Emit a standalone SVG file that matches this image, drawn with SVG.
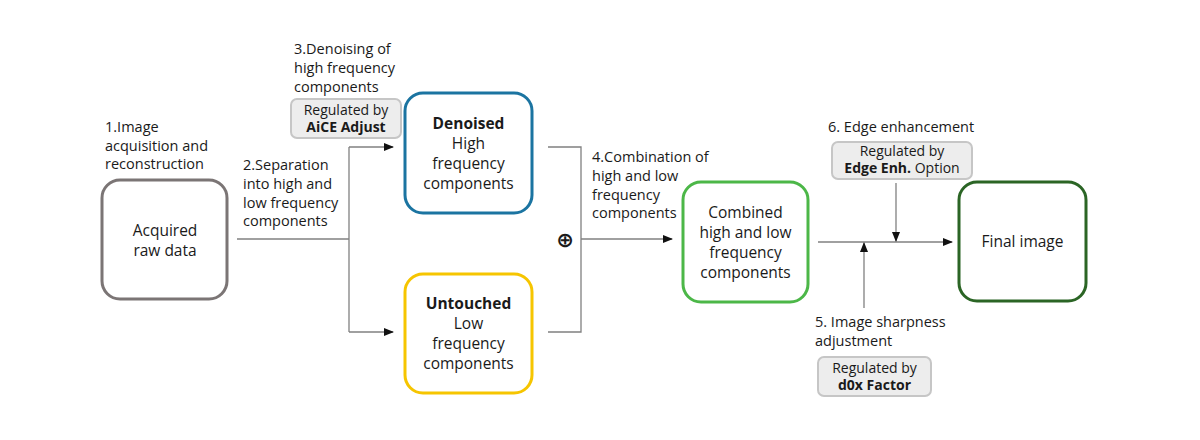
<svg xmlns="http://www.w3.org/2000/svg" width="1200" height="440" viewBox="0 0 1200 440">
<defs>
<style>
text{font-family:"Open Sans","Noto Sans","DejaVu Sans",sans-serif;fill:#1a1a1a}
.lbl{font-size:14.5px}
.nt{font-size:15.5px;text-anchor:middle}
.b{font-weight:bold}
.reg{font-size:14px;text-anchor:middle}
.node{fill:#fff;stroke-width:3}
.tag{fill:#ededed;stroke:#c6c6c6;stroke-width:2}
.ln{fill:none;stroke:#808080;stroke-width:1.3}
</style>
<marker id="ah" markerWidth="10" markerHeight="8" refX="9" refY="4" orient="auto" markerUnits="userSpaceOnUse">
<path d="M0,0 L10,4 L0,8 Z" fill="#111"/>
</marker>
</defs>
<rect width="1200" height="440" fill="#fff"/>

<g id="connectors">
<path class="ln" d="M237,239 H349"/>
<path class="ln" d="M349,147 V332"/>
<path class="ln" d="M349,147 H393" marker-end="url(#ah)"/>
<path class="ln" d="M349,332 H393" marker-end="url(#ah)"/>
<path class="ln" d="M548,147 H581 V332 H548"/>
<path class="ln" d="M581,239 H672" marker-end="url(#ah)"/>
<path class="ln" d="M818,242 H952" marker-end="url(#ah)"/>
<path class="ln" d="M896,183 V241" marker-end="url(#ah)"/>
<path class="ln" d="M864,308 V243" marker-end="url(#ah)"/>
<text x="565" y="247" style="font-family:'DejaVu Sans',sans-serif;font-size:21px;font-weight:bold;text-anchor:middle">⊕</text>
</g>

<g id="step1">
<text class="lbl" x="105"><tspan x="105" y="132">1.Image</tspan><tspan x="105" y="150.5">acquisition and</tspan><tspan x="105" y="169">reconstruction</tspan></text>
</g>
<g id="raw">
<rect class="node" x="102" y="180" width="125" height="119" rx="18" stroke="#7b7575"/>
<text class="nt"><tspan x="165" y="235.5">Acquired</tspan><tspan x="165" y="255.5">raw data</tspan></text>
</g>
<g id="step2">
<text class="lbl"><tspan x="243" y="170">2.Separation</tspan><tspan x="243" y="189">into high and</tspan><tspan x="243" y="207.5">low frequency</tspan><tspan x="243" y="226">components</tspan></text>
</g>
<g id="step3">
<text class="lbl"><tspan x="294" y="54">3.Denoising of</tspan><tspan x="294" y="73">high frequency</tspan><tspan x="294" y="91.5">components</tspan></text>
</g>
<g id="aice">
<rect class="tag" x="291" y="99" width="110" height="39" rx="6"/>
<text class="reg"><tspan x="346" y="115">Regulated by</tspan><tspan x="346" y="132" class="b">AiCE Adjust</tspan></text>
</g>
<g id="denoised">
<rect class="node" x="405" y="93" width="127" height="120" rx="18" stroke="#1b74a1"/>
<text class="nt"><tspan x="468.5" y="129" class="b">Denoised</tspan><tspan x="468.5" y="149">High</tspan><tspan x="468.5" y="169">frequency</tspan><tspan x="468.5" y="189">components</tspan></text>
</g>
<g id="untouched">
<rect class="node" x="405" y="274" width="127" height="119" rx="18" stroke="#f6c500"/>
<text class="nt"><tspan x="468.5" y="309" class="b">Untouched</tspan><tspan x="468.5" y="329">Low</tspan><tspan x="468.5" y="349">frequency</tspan><tspan x="468.5" y="369">components</tspan></text>
</g>
<g id="step4">
<text class="lbl"><tspan x="592" y="162">4.Combination of</tspan><tspan x="592" y="181">high and low</tspan><tspan x="592" y="199.5">frequency</tspan><tspan x="592" y="218">components</tspan></text>
</g>
<g id="combined">
<rect class="node" x="683" y="182" width="125" height="120" rx="18" stroke="#4cb748"/>
<text class="nt"><tspan x="745.5" y="218">Combined</tspan><tspan x="745.5" y="238">high and low</tspan><tspan x="745.5" y="258">frequency</tspan><tspan x="745.5" y="278">components</tspan></text>
</g>
<g id="step6">
<text class="lbl" x="828" y="132">6. Edge enhancement</text>
</g>
<g id="edge">
<rect class="tag" x="832" y="142" width="140" height="37" rx="6"/>
<text class="reg"><tspan x="902" y="156">Regulated by</tspan><tspan x="902" y="173"><tspan class="b">Edge Enh.</tspan> Option</tspan></text>
</g>
<g id="final">
<rect class="node" x="959" y="182" width="127" height="119" rx="18" stroke="#2b6525"/>
<text class="nt" x="1022.5" y="247">Final image</text>
</g>
<g id="step5">
<text class="lbl"><tspan x="815" y="327">5. Image sharpness</tspan><tspan x="815" y="346">adjustment</tspan></text>
</g>
<g id="d0x">
<rect class="tag" x="818" y="357" width="113" height="39" rx="6"/>
<text class="reg"><tspan x="874.5" y="373">Regulated by</tspan><tspan x="874.5" y="390" class="b">d0x Factor</tspan></text>
</g>
</svg>
